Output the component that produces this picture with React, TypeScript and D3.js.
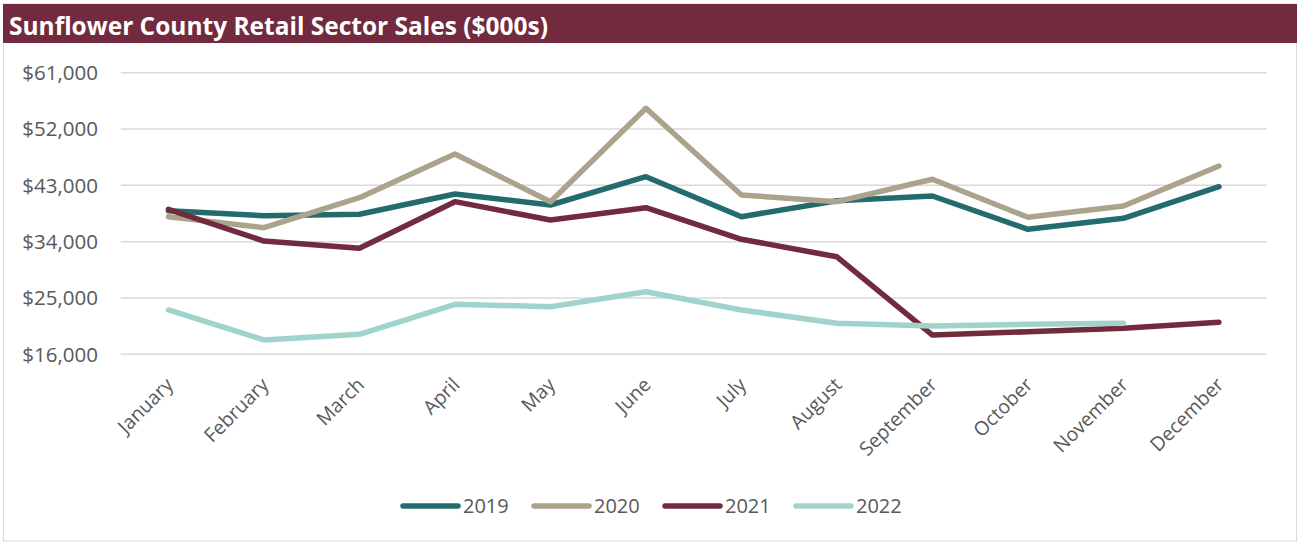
import React from "react";
import * as d3 from "d3";

const months = ["January", "February", "March", "April", "May", "June", "July", "August", "September", "October", "November", "December"];
const years = ["2019", "2020", "2021", "2022"];
const s2019 = [38950, 38150, 38370, 41620, 39860, 44380, 37990, 40550, 41300, 35970, 37730, 42780];
const s2020 = [37990, 36230, 41020, 48010, 40390, 55310, 41460, 40390, 43970, 37890, 39700, 46090];
const s2021 = [39170, 34100, 32940, 40390, 37460, 39430, 34380, 31580, 19080, 19610, 20150, 21110];
const s2022: (number | null)[] = [23080, 18290, 19200, 23990, 23610, 26000, 23080, 20950, 20520, 20790, 20950, null];
const yTicks = [16000, 25000, 34000, 43000, 52000, 61000];
const colors = ["#246B6E", "#ABA38C", "#722B3E", "#A0D3CB"];
const title = "Sunflower County Retail Sector Sales ($000s)";

const W = 1304;
const H = 544;
const FONT = "'Open Sans', sans-serif";
const GRAY = "#595959";

export default function App() {
  const series = [s2019, s2020, s2021, s2022];
  const x = d3.scalePoint<string>().domain(months).range([120.7, 1266.7]).padding(0.5);
  const y = d3.scaleLinear().domain([16000, 61000]).range([354.3, 72.7]);
  const fmt = (v: number) => "$" + d3.format(",")(v);
  const line = d3
    .line<number | null>()
    .defined((d) => d !== null)
    .x((_, i) => x(months[i]) as number)
    .y((d) => y(d as number));

  return (
    <svg width={W} height={H} style={{ position: "absolute", left: 0, top: 0, background: "#fff" }} fontFamily={FONT}>
      <rect x={3.5} y={4} width={1293} height={537} fill="#fff" stroke="#D9D9D9" strokeWidth={1} />
      <rect x={3} y={4} width={1294} height={39} fill="#722B3E" />
      <text x={9} y={35} fill="#fff" fontWeight="bold" fontSize={25} textLength={539} lengthAdjust="spacingAndGlyphs">
        {title}
      </text>
      {yTicks.map((t) => (
        <g key={t}>
          <line x1={120.7} x2={1266.7} y1={y(t)} y2={y(t)} stroke="#D9D9D9" strokeWidth={1.5} />
          <text x={98} y={y(t)} dy="0.36em" textAnchor="end" fill={GRAY} fontSize={20.5}>
            {fmt(t)}
          </text>
        </g>
      ))}
      {months.map((m) => (
        <text
          key={m}
          transform={`translate(${(x(m) as number) + 1},${381}) rotate(-45)`}
          textAnchor="end"
          dy="0.36em"
          fill={GRAY}
          fontSize={19.5}
        >
          {m}
        </text>
      ))}
      {series.map((s, i) => (
        <path
          key={years[i]}
          d={line(s) || ""}
          fill="none"
          stroke={colors[i]}
          strokeWidth={5.5}
          strokeLinejoin="round"
          strokeLinecap="round"
        />
      ))}
      {years.map((yr, i) => {
        const lx = 403 + i * 131;
        return (
          <g key={yr}>
            <line x1={lx} x2={lx + 55} y1={506} y2={506} stroke={colors[i]} strokeWidth={5.5} strokeLinecap="round" />
            <text x={lx + 60} y={506} dy="0.36em" fill={GRAY} fontSize={20}>
              {yr}
            </text>
          </g>
        );
      })}
    </svg>
  );
}
